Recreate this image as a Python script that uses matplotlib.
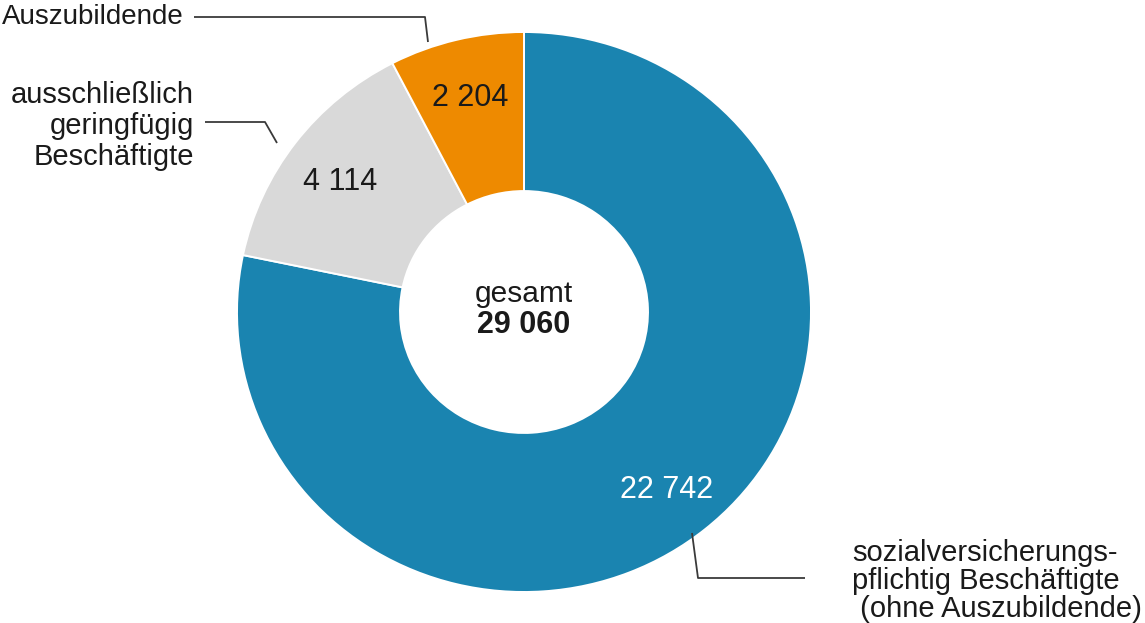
import numpy as np
import matplotlib.pyplot as plt

# data
labels = ["sozialversicherungs-\npflichtig Beschäftigte\n (ohne Auszubildende)",
          "ausschließlich\ngeringfügig\nBeschäftigte",
          "Auszubildende"]
values = [22742, 4114, 2204]
value_text = ["22 742", "4 114", "2 204"]
colors = ["#1a84b0", "#d9d9d9", "#ee8a00"]
value_colors = ["white", "#1a1a1a", "#1a1a1a"]
total_text = "29 060"

W, H = 1145, 623
plt.rcParams["font.family"] = ["Liberation Sans", "DejaVu Sans"]
txt_col = "#1a1a1a"

fig = plt.figure(figsize=(W / 100, H / 100), dpi=100)

# donut axes (bounding box of the ring, in pixels from top-left)
left, top, right, bottom = 237, 32, 811, 592
pax = fig.add_axes([left / W, 1 - bottom / H, (right - left) / W, (bottom - top) / H])
pax.pie(values, colors=colors, startangle=90, counterclock=False, radius=1,
        wedgeprops=dict(width=0.568, edgecolor="white", linewidth=1.4))
pax.set_xlim(-1, 1)
pax.set_ylim(-1, 1)
pax.set_aspect("auto")
pax.axis("off")

# overlay axes in pixel units for text and leader lines
ax = fig.add_axes([0, 0, 1, 1])
ax.set_xlim(0, W)
ax.set_ylim(H, 0)
ax.axis("off")
ax.patch.set_alpha(0)

cx = (left + right) / 2

# value labels inside ring
val_pos = [(667, 490), (340, 182), (470, 98)]
for (px, py), t, c in zip(val_pos, value_text, value_colors):
    ax.text(px, py, t, ha="center", va="center", fontsize=22, color=c)

# center text
ax.text(cx, 294, "gesamt", ha="center", va="center", fontsize=21.5, color=txt_col)
ax.text(cx, 325, total_text, ha="center", va="center", fontsize=22,
        fontweight="bold", color=txt_col)

# leader lines
leaders = [
    [(692, 533), (698, 578), (805, 578)],
    [(277, 143), (265, 122), (205, 122)],
    [(428, 42), (425, 17), (194, 17)],
]
for pts in leaders:
    ax.plot([p[0] for p in pts], [p[1] for p in pts], color="#3a3a3a",
            lw=1.3, solid_capstyle="butt")

# category labels
ax.text(852, 581, labels[0], ha="left", va="center", fontsize=21,
        color=txt_col, linespacing=0.98)
ax.text(194, 126, labels[1], ha="right", va="center", fontsize=21,
        color=txt_col, linespacing=1.15, multialignment="right")
ax.text(184, 17, labels[2], ha="right", va="center", fontsize=20,
        color=txt_col)

fig.savefig("out.png", dpi=100, facecolor="white")
